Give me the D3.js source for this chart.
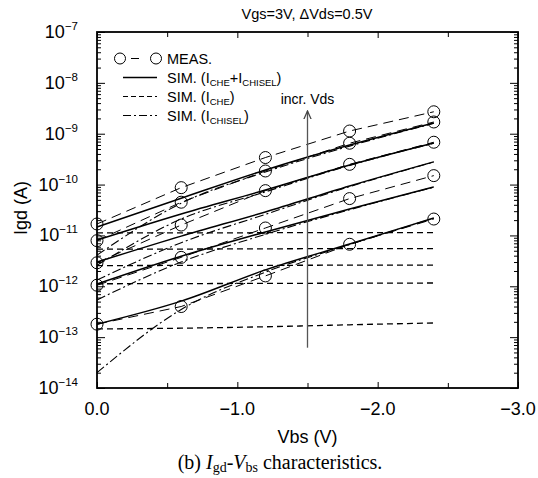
<!DOCTYPE html>
<html>
<head>
<meta charset="utf-8">
<script src="https://cdn.jsdelivr.net/npm/d3@7"></script>
<style>
  body { margin: 0; background: #fff; }
  svg { font-family: "Liberation Sans", Arial, sans-serif; }
</style>
</head>
<body>
<svg id="svg_1" width="538" height="478"></svg>
<script>
// Vbs sweep points (V)
var vbs = [0, -0.6, -1.2, -1.8, -2.4];

// measured Igd (A), one row per Vds step (low -> high)
var meas1 = [1.8e-13, 4.0e-13, 1.6e-12, 6.7e-12, 2.1e-11];
var meas2 = [1.05e-12, 3.7e-12, 1.4e-11, 5.3e-11, 1.5e-10];
var meas3 = [2.9e-12, 1.6e-11, 7.6e-11, 2.5e-10, 6.8e-10];
var meas4 = [7.9e-12, 4.5e-11, 1.85e-10, 6.5e-10, 1.7e-9];
var meas5 = [1.68e-11, 8.7e-11, 3.4e-10, 1.13e-9, 2.7e-9];

// simulated CHE + CHISEL
var tot1 = [1.8e-13, 5.1e-13, 2.1e-12, 6.8e-12, 2.2e-11];
var tot2 = [1.11e-12, 3.9e-12, 1.17e-11, 3.3e-11, 9.0e-11];
var tot3 = [3.0e-12, 9.7e-12, 2.9e-11, 9.4e-11, 2.8e-10];
var tot4 = [8.1e-12, 2.64e-11, 7.8e-11, 2.43e-10, 6.6e-10];
var tot5 = [1.47e-11, 5.4e-11, 1.94e-10, 6.0e-10, 1.63e-9];

// simulated CHE only
var che1 = [1.45e-13, 1.5e-13, 1.6e-13, 1.75e-13, 1.9e-13];
var che2 = [1.12e-12, 1.13e-12, 1.14e-12, 1.15e-12, 1.16e-12];
var che3 = [2.55e-12, 2.57e-12, 2.58e-12, 2.6e-12, 2.6e-12];
var che4 = [5.4e-12, 5.4e-12, 5.45e-12, 5.5e-12, 5.5e-12];
var che5 = [1.12e-11, 1.12e-11, 1.13e-11, 1.14e-11, 1.14e-11];

// simulated CHISEL only
var chisel1 = [2.0e-14, 3.5e-13, 1.9e-12, 6.6e-12, 2.18e-11];
var chisel2 = [5.4e-13, 3.0e-12, 1.05e-11, 3.2e-11, 8.9e-11];
var chisel3 = [1.33e-12, 7.2e-12, 2.6e-11, 9.1e-11, 2.77e-10];
var chisel4 = [2.6e-12, 2.1e-11, 7.2e-11, 2.38e-10, 6.5e-10];
var chisel5 = [4.1e-12, 4.3e-11, 1.77e-10, 5.7e-10, 1.6e-9];

var measAll = [meas1, meas2, meas3, meas4, meas5];
var totAll = [tot1, tot2, tot3, tot4, tot5];
var cheAll = [che1, che2, che3, che4, che5];
var chiselAll = [chisel1, chisel2, chisel3, chisel4, chisel5];

var xTicks = [0, -1, -2, -3];
var xTickLabels = ["0.0", "\u22121.0", "\u22122.0", "\u22123.0"];
var xMinor = [-0.5, -1.5, -2.5];
var yDecades = [-14, -13, -12, -11, -10, -9, -8, -7];

// "incr. Vds" arrow
var arrowX = -1.5;
var arrowY = [6.2e-14, 2.8e-9];

var svg = d3.select("svg#svg_1"),
    margin = {top: 32, right: 20, bottom: 90, left: 97},
    width = +svg.attr("width") - margin.left - margin.right,
    height = +svg.attr("height") - margin.top - margin.bottom,
    g = svg.append("g").attr("transform", "translate(" + margin.left + "," + margin.top + ")");

var x = d3.scaleLinear().domain([0, -3]).range([0, width]);
var y = d3.scaleLog().domain([1e-14, 1e-7]).range([height, 0]);

var yMajor = yDecades.map(function(d) { return Math.pow(10, d); });
var yMinor = [];
yDecades.slice(0, -1).forEach(function(d) {
  for (var k = 2; k <= 9; k++) yMinor.push(k * Math.pow(10, d));
});

// axes (ticks point inward on all four sides)
function tickAxis(gen, scale, vals, size) {
  return gen(scale).tickValues(vals).tickSize(-size).tickFormat("");
}
var axes = [
  [d3.axisLeft, y, yMajor, 8, "translate(0,0)"],
  [d3.axisLeft, y, yMinor, 4, "translate(0,0)"],
  [d3.axisRight, y, yMajor, 8, "translate(" + width + ",0)"],
  [d3.axisRight, y, yMinor, 4, "translate(" + width + ",0)"],
  [d3.axisBottom, x, xTicks, 6, "translate(0," + height + ")"],
  [d3.axisBottom, x, xMinor, 5, "translate(0," + height + ")"],
  [d3.axisTop, x, xTicks, 6, "translate(0,0)"],
  [d3.axisTop, x, xMinor, 5, "translate(0,0)"]
];
axes.forEach(function(a) {
  var ax = g.append("g").attr("transform", a[4]).call(tickAxis(a[0], a[1], a[2], a[3]));
  ax.select(".domain").remove();
  ax.selectAll("line").attr("stroke", "#000").attr("stroke-width", 1);
});

g.append("rect")
    .attr("width", width)
    .attr("height", height)
    .attr("fill", "none")
    .attr("stroke", "#000")
    .attr("stroke-width", 1.8);

// y tick labels: 10^n
var yl = g.append("g").selectAll("text")
  .data(yDecades)
  .enter().append("text")
    .attr("x", -19)
    .attr("y", function(d) { return y(Math.pow(10, d)) + 6; })
    .attr("text-anchor", "end")
    .attr("font-size", 18);
yl.append("tspan").text("10");
yl.append("tspan").attr("dy", -8).attr("font-size", 11.5).text(function(d) { return "\u2212" + (-d); });

// x tick labels
g.append("g").selectAll("text")
  .data(xTicks)
  .enter().append("text")
    .attr("x", function(d) { return x(d); })
    .attr("y", height + 27)
    .attr("text-anchor", "middle")
    .attr("font-size", 18)
    .text(function(d, i) { return xTickLabels[i]; });

// axis titles
g.append("text")
    .attr("x", width / 2)
    .attr("y", height + 55)
    .attr("text-anchor", "middle")
    .attr("font-size", 18)
    .text("Vbs (V)");

g.append("text")
    .attr("transform", "translate(" + (-70) + "," + (height / 2 - 2) + ") rotate(-90)")
    .attr("text-anchor", "middle")
    .attr("font-size", 18)
    .text("Igd (A)");

svg.append("text")
    .attr("x", 307)
    .attr("y", 19)
    .attr("text-anchor", "middle")
    .attr("font-size", 14.5)
    .text("Vgs=3V, \u0394Vds=0.5V");

// lines
var line = d3.line()
    .x(function(d, i) { return x(vbs[i]); })
    .y(function(d) { return y(d); });
var smooth = d3.line()
    .curve(d3.curveMonotoneX)
    .x(function(d, i) { return x(vbs[i]); })
    .y(function(d) { return y(d); });

var styles = [
  {data: cheAll, dash: "6,4", gen: smooth, w: 1.3},
  {data: chiselAll, dash: "9,3,2,3", gen: smooth, w: 1.1},
  {data: totAll, dash: null, gen: smooth, w: 1.5},
  {data: measAll, dash: "10,6", gen: line, w: 1}
];
styles.forEach(function(s) {
  g.append("g").selectAll("path")
    .data(s.data)
    .enter().append("path")
      .attr("d", s.gen)
      .attr("fill", "none")
      .attr("stroke", "#000")
      .attr("stroke-width", s.w)
      .attr("stroke-dasharray", s.dash);
});

g.append("g").selectAll("g")
  .data(measAll)
  .enter().append("g")
  .selectAll("circle")
  .data(function(d) { return d; })
  .enter().append("circle")
    .attr("cx", function(d, i) { return x(vbs[i]); })
    .attr("cy", function(d) { return y(d); })
    .attr("r", 6)
    .attr("fill", "none")
    .attr("stroke", "#000")
    .attr("stroke-width", 1);

// arrow
svg.append("defs").append("marker")
    .attr("id", "arr")
    .attr("viewBox", "0 0 10 10")
    .attr("refX", 9).attr("refY", 5)
    .attr("markerWidth", 7).attr("markerHeight", 7)
    .attr("orient", "auto")
  .append("path")
    .attr("d", "M0,1L9,5L0,9")
    .attr("fill", "none")
    .attr("stroke", "#444")
    .attr("stroke-width", 1.4);

g.append("line")
    .attr("x1", x(arrowX)).attr("x2", x(arrowX))
    .attr("y1", y(arrowY[0])).attr("y2", y(arrowY[1]))
    .attr("stroke", "#555")
    .attr("stroke-width", 1.3)
    .attr("marker-end", "url(#arr)");

g.append("text")
    .attr("x", x(arrowX))
    .attr("y", y(arrowY[1]) - 7)
    .attr("text-anchor", "middle")
    .attr("font-size", 14)
    .text("incr. Vds");

// legend
var legend = g.append("g").attr("transform", "translate(0,0)");
var legItems = [
  {dash: "8,5", main: [["MEAS.", 0]]},
  {dash: null, main: [["SIM. (I", 0], ["CHE", 1], ["+I", 0], ["CHISEL", 1], [")", 0]]},
  {dash: "5,3", main: [["SIM. (I", 0], ["CHE", 1], [")", 0]]},
  {dash: "8,3,2,3", main: [["SIM. (I", 0], ["CHISEL", 1], [")", 0]]}
];
legItems.forEach(function(it, i) {
  var ly = 26.5 + i * 19;
  var lg = legend.append("g").attr("transform", "translate(0," + ly + ")");
  lg.append("line")
      .attr("x1", i === 0 ? 23 : 26).attr("x2", i === 0 ? 59 : 60)
      .attr("stroke", "#000")
      .attr("stroke-width", i === 1 ? 1.5 : 1.2)
      .attr("stroke-dasharray", i === 0 ? "0,11,8,50" : it.dash);
  if (i === 0) {
    lg.append("circle").attr("cx", 23).attr("r", 5.5).attr("fill", "#fff").attr("stroke", "#000");
    lg.append("circle").attr("cx", 59).attr("r", 5.5).attr("fill", "#fff").attr("stroke", "#000");
  }
  var t = lg.append("text").attr("x", 70).attr("y", 5).attr("font-size", 14.5);
  var prevSub = 0;
  it.main.forEach(function(p) {
    var ts = t.append("tspan").text(p[0]);
    if (p[1] !== prevSub) ts.attr("dy", p[1] ? 3.5 : -3.5);
    if (p[1]) ts.attr("font-size", 9.5);
    prevSub = p[1];
  });
});

// caption
var cap = svg.append("text")
    .attr("x", 280)
    .attr("y", 469)
    .attr("text-anchor", "middle")
    .attr("font-family", "'Liberation Serif', 'Times New Roman', serif")
    .attr("font-size", 20);
cap.append("tspan").text("(b) ");
cap.append("tspan").attr("font-style", "italic").text("I");
cap.append("tspan").attr("font-size", 14).attr("dy", 3).text("gd");
cap.append("tspan").attr("dy", -3).text("-");
cap.append("tspan").attr("font-style", "italic").text("V");
cap.append("tspan").attr("font-size", 14).attr("dy", 3).text("bs");
cap.append("tspan").attr("dy", -3).text(" characteristics.");
</script>
</body>
</html>
